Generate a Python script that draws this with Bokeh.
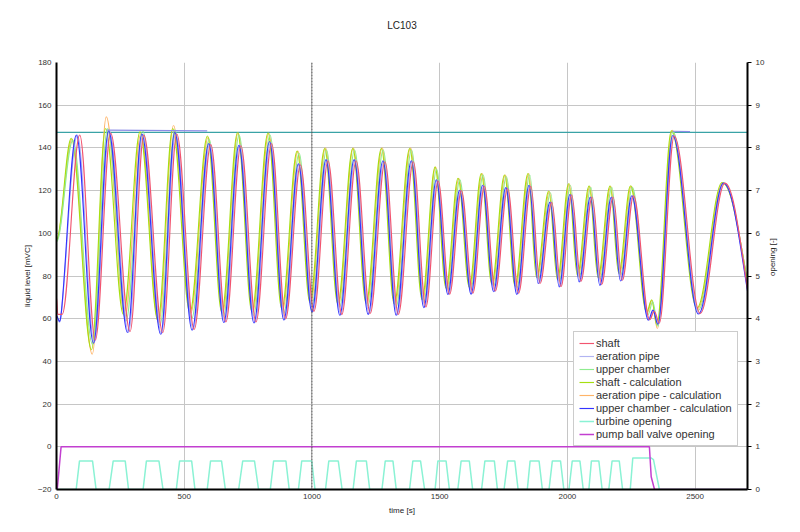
import math
import numpy as np
from bokeh.plotting import figure
from bokeh.models import (Range1d, LinearAxis, SingleIntervalTicker, Title,
                          Legend, LegendItem, Span, ColumnDataSource)
from bokeh.embed import file_html
from bokeh.resources import INLINE

# ---------------- data ----------------
title_text = "LC103"
x_label = "time [s]"
y_label = "liquid level [mVC]"
y2_label = "opening [-]"
series_names = ["shaft", "aeration pipe", "upper chamber", "shaft - calculation",
                "aeration pipe - calculation", "upper chamber - calculation",
                "turbine opening", "pump ball valve opening"]

# shaft (measured) – turning points
shaft_t = [0, 5, 22, 91, 152, 212, 288, 342, 416, 471, 539, 604, 663, 722, 781, 842, 897, 955, 1008,
           1063, 1117, 1173, 1228, 1286, 1338, 1397, 1446, 1494, 1539, 1585, 1630, 1675, 1718, 1766,
           1809, 1857, 1893, 1939, 1975, 2017, 2053, 2097, 2134, 2179, 2215, 2259, 2322, 2340, 2360,
           2418, 2520, 2617, 2705]
shaft_v = [70, 62, 62, 146, 50, 147, 54, 146, 53.5, 146.5, 55, 141.5, 58.5, 141, 58.5, 142, 60, 132,
           63.5, 134, 62, 134, 62.5, 133.5, 62, 133.5, 65.5, 124.5, 71.5, 120, 72, 122, 73, 121, 72,
           122, 76.5, 114.5, 75, 118, 77.5, 117, 76, 117, 78, 117.5, 59.5, 63.5, 58, 145.5, 62.5,
           123.5, 74]

# aeration pipe (measured)
aer_t = [0, 18, 82, 148, 207, 282, 338, 411, 466, 535, 600, 659, 718, 777, 838, 894, 951, 1004, 1059,
         1113, 1169, 1224, 1282, 1334, 1393, 1442, 1491, 1536, 1582, 1627, 1672, 1715, 1763, 1806,
         1854, 1890, 1936, 1972, 2014, 2050, 2094, 2131, 2176, 2212, 2256, 2320, 2338, 2357, 2415,
         2517, 2614, 2705]
aer_v = [61, 61.5, 146, 49, 148, 53.5, 146.5, 53, 147, 55, 142, 58.5, 141.5, 58.3, 142.5, 59.6,
         132.5, 63.3, 134.5, 61.8, 134.5, 62.2, 134, 61.8, 134, 65.4, 125, 71.5, 120, 71.8, 122.3,
         72.8, 121.3, 71.7, 122.3, 76.5, 114.6, 75, 118, 77.3, 117, 75.8, 117, 77.8, 117.5, 59.4,
         63.8, 57.6, 146, 62.3, 123.5, 73.5]
# aeration pipe resting at the overflow level
aer_flat_t = [[197, 590], [2412, 2480]]
aer_flat_v = [[148.3, 148.0], [147.8, 147.6]]

# upper chamber (measured)
uc_t = [0, 64, 141, 200, 272, 338, 405, 463, 529, 598, 653, 715, 771, 836, 889, 950, 999, 1057, 1108,
        1167, 1219, 1279, 1329, 1390, 1438, 1488, 1531, 1579, 1622, 1670, 1711, 1761, 1802, 1853,
        1886, 1934, 1968, 2012, 2046, 2092, 2127, 2174, 2208, 2254, 2316, 2334, 2354, 2413, 2512,
        2612, 2705]
uc_v = [96, 143.5, 48, 149, 59, 148, 57, 148.5, 60, 144, 61, 146, 61.5, 146, 62.5, 137.5, 66, 139,
        65.5, 139, 66, 139, 65.5, 139, 68, 130, 73.5, 125, 74, 127.3, 75.5, 126.5, 74.5, 127.3, 78.5,
        119, 77.5, 122.5, 79.5, 121.5, 78.5, 121.5, 80.5, 121.5, 62, 68, 56.5, 147.5, 64, 123.5, 76]

# shaft - calculation
sc_t = [0, 58, 137, 192, 262, 327, 397, 455, 522, 591, 647, 709, 765, 828, 882, 942, 992, 1050, 1101,
        1160, 1212, 1272, 1322, 1383, 1431, 1482, 1525, 1572, 1616, 1663, 1704, 1754, 1795, 1846,
        1879, 1927, 1961, 2005, 2039, 2085, 2120, 2167, 2201, 2247, 2310, 2330, 2350, 2407, 2507,
        2606, 2705]
sc_v = [97, 144.5, 45.5, 149, 62, 147.5, 59, 149, 63, 145.5, 63, 147.2, 63.3, 147, 64.5, 138.5, 67.6,
        139.8, 67, 139.8, 67.3, 139.8, 67, 139.8, 69, 131, 74.3, 125.8, 74.7, 128, 76.3, 127.3, 75.3,
        128, 79.4, 119.8, 78.3, 123.3, 80.3, 122.2, 79.3, 122.2, 81.3, 122.2, 63, 68.8, 57, 148, 65,
        123.8, 77.5]

# aeration pipe - calculation
ac_t = [0, 61, 140, 195, 268, 330, 400, 458, 525, 594, 650, 711, 768, 831, 885, 945, 995, 1053, 1104,
        1162, 1215, 1275, 1325, 1386, 1434, 1484, 1528, 1575, 1619, 1666, 1707, 1757, 1798, 1849,
        1882, 1930, 1964, 2008, 2042, 2088, 2123, 2170, 2204, 2250, 2312, 2331, 2352, 2410, 2510,
        2609, 2705]
ac_v = [97, 144, 43.4, 154.5, 61, 146.5, 58, 150.5, 62.5, 145, 62.5, 147, 63, 147, 64, 138.5, 67.4,
        140, 66.6, 140, 67, 140, 66.6, 140, 68.8, 131, 74, 125.6, 74.5, 128, 76, 127.3, 75, 128, 79.2,
        119.6, 78, 123.2, 80, 122, 79, 122, 81, 122, 62.5, 68.6, 55.4, 148.2, 64.8, 123.6, 77]

# upper chamber - calculation
ucc_t = [0, 18, 78, 145, 204, 278, 334, 408, 463, 531, 596, 655, 714, 773, 834, 890, 947, 1000, 1055,
         1109, 1165, 1220, 1278, 1330, 1389, 1438, 1487, 1532, 1578, 1623, 1668, 1711, 1759, 1802,
         1850, 1886, 1932, 1968, 2010, 2046, 2090, 2127, 2172, 2208, 2252, 2317, 2335, 2354, 2412,
         2513, 2611, 2705]
ucc_v = [61.5, 62, 146, 48.5, 148, 53.5, 146.5, 52.7, 147.4, 54.6, 142, 58.2, 141.2, 58, 143, 59.4,
         132.5, 63.2, 134.5, 61.6, 134.5, 62, 134, 61.6, 134, 65.2, 125.1, 71.4, 120.1, 71.5, 122.5,
         72.7, 121.4, 71.4, 122.5, 76.4, 114.6, 74.9, 118.2, 77.2, 117, 75.6, 117, 77.7, 117.6, 59.3,
         64, 57.4, 145.8, 62.2, 123.5, 73]

# overflow level line
overflow_level = 147.3

# turbine opening (right axis)
turb_t = [0, 77, 90, 141, 155, 206, 222, 269, 282, 339, 352, 401, 417, 469, 482, 529, 542, 590, 603,
          646, 661, 713, 729, 775, 791, 837, 850, 898, 911, 947, 960, 999, 1012, 1053, 1066, 1103,
          1118, 1161, 1174, 1213, 1226, 1274, 1287, 1317, 1330, 1382, 1395, 1425, 1441, 1482, 1493,
          1525, 1538, 1571, 1584, 1616, 1629, 1664, 1677, 1714, 1726, 1752, 1766, 1794, 1807, 1843,
          1854, 1889, 1902, 1928, 1941, 1973, 1986, 2006, 2019, 2049, 2062, 2084, 2094, 2123, 2136,
          2162, 2175, 2203, 2216, 2246, 2256, 2327, 2337, 2360, 2705]
turb_v = [0, 0, 0.67, 0.67, 0, 0, 0.67, 0.67, 0, 0, 0.67, 0.67, 0, 0, 0.67, 0.67, 0, 0, 0.67, 0.67,
          0, 0, 0.67, 0.67, 0, 0, 0.67, 0.67, 0, 0, 0.67, 0.67, 0, 0, 0.67, 0.67, 0, 0, 0.67, 0.67,
          0, 0, 0.67, 0.67, 0, 0, 0.67, 0.67, 0, 0, 0.67, 0.67, 0, 0, 0.67, 0.67, 0, 0, 0.67, 0.67,
          0, 0, 0.67, 0.67, 0, 0, 0.67, 0.67, 0, 0, 0.67, 0.67, 0, 0, 0.67, 0.67, 0, 0, 0.67, 0.67,
          0, 0, 0.67, 0.67, 0, 0, 0.74, 0.74, 0.70, 0, 0]

# pump ball valve opening (right axis)
pump_t = [0, 3, 18, 2321, 2328, 2341, 2705]
pump_v = [0, 0, 1, 1, 0.3, 0, 0]

# ---------------- styling ----------------
FONT = "Liberation Sans"
colors = {
    "shaft": "#f2546f",
    "aeration pipe": "#b2b4f2",
    "upper chamber": "#8fec8f",
    "shaft - calculation": "#a6df10",
    "aeration pipe - calculation": "#ffb468",
    "upper chamber - calculation": "#3434ff",
    "turbine opening": "#8af2d4",
    "pump ball valve opening": "#c23fd0",
}

p = figure(width=784, height=518, output_backend="svg", toolbar_location=None,
           x_range=Range1d(0, 2705), y_range=Range1d(-20, 180),
           min_border_left=56, min_border_right=34, min_border_top=62, min_border_bottom=29,
           background_fill_color="white", border_fill_color="white")
p.outline_line_color = None
p.extra_y_ranges = {"op": Range1d(0, 10)}

# empty spacer between the plot area and the title
p.add_layout(Title(text=" ", standoff=19, text_font=FONT, text_font_size="10px"), "above")
p.title.text = title_text
p.title.align = "center"
p.title.text_font = FONT
p.title.text_font_size = "10px"
p.title.text_font_style = "normal"
p.title.text_color = "#222222"
p.title.standoff = 0

# grids
p.xgrid.ticker = SingleIntervalTicker(interval=500)
p.ygrid.ticker = SingleIntervalTicker(interval=20)
for g in (p.xgrid, p.ygrid):
    g.grid_line_color = "#c6c6c6"
    g.grid_line_width = 1

# axes
xa = p.xaxis[0]
xa.ticker = SingleIntervalTicker(interval=500)
xa.axis_label = x_label
ya = p.yaxis[0]
ya.ticker = SingleIntervalTicker(interval=20)
ya.axis_label = y_label
ya2 = LinearAxis(y_range_name="op", ticker=SingleIntervalTicker(interval=1), axis_label=y2_label)
p.add_layout(ya2, "right")
for ax in (xa, ya, ya2):
    ax.axis_line_color = "black"
    ax.axis_line_width = 2
    ax.major_tick_in = 0
    ax.major_tick_out = 0
    ax.minor_tick_in = 0
    ax.minor_tick_out = 0
    ax.major_label_text_font = FONT
    ax.major_label_text_font_size = "8px"
    ax.major_label_text_color = "#333333"
    ax.axis_label_text_font = FONT
    ax.axis_label_text_font_size = "8px"
    ax.axis_label_text_font_style = "normal"
    ax.axis_label_text_color = "#222222"
ya2.major_tick_out = 4
ya2.major_tick_line_color = "black"
ya2.axis_label_orientation = math.pi / 2
xa.major_label_standoff = 4
xa.axis_label_standoff = 4
ya.major_label_standoff = 5
ya.axis_label_standoff = 3
ya2.major_label_standoff = 4
ya2.axis_label_standoff = 5

# dashed marker line at 1000 s
p.add_layout(Span(location=1000, dimension="height", line_color="#555555",
                  line_dash="2 1", line_width=1))


def bezier_source(t, v):
    """Control points for a smooth stroke through the listed turning points."""
    t = np.asarray(t, float)
    v = np.asarray(v, float)
    n = len(t)
    m = np.zeros(n)
    for i in range(1, n - 1):
        if (v[i] - v[i - 1]) * (v[i + 1] - v[i]) > 0:
            m[i] = (v[i + 1] - v[i - 1]) / (t[i + 1] - t[i - 1])
    m[-1] = 1.4 * (v[-1] - v[-2]) / (t[-1] - t[-2])
    dt = t[1:] - t[:-1]
    k = 0.36
    return ColumnDataSource(dict(
        x0=t[:-1], y0=v[:-1], x1=t[1:], y1=v[1:],
        cx0=t[:-1] + k * dt, cy0=v[:-1] + m[:-1] * k * dt,
        cx1=t[1:] - k * dt, cy1=v[1:] - m[1:] * k * dt))


# overflow level
p.line([0, 2705], [overflow_level, overflow_level], line_color="#3aa3a6", line_width=1.3)

renderers = {}
level_series = [
    ("aeration pipe - calculation", ac_t, ac_v),
    ("shaft - calculation", sc_t, sc_v),
    ("upper chamber", uc_t, uc_v),
    ("aeration pipe", aer_t, aer_v),
    ("upper chamber - calculation", ucc_t, ucc_v),
    ("shaft", shaft_t, shaft_v),
]
for name, t, v in level_series:
    src = bezier_source(t, v)
    renderers[name] = p.bezier(x0="x0", y0="y0", x1="x1", y1="y1", cx0="cx0", cy0="cy0",
                               cx1="cx1", cy1="cy1", source=src, line_color=colors[name],
                               line_width=1.15)

p.multi_line(aer_flat_t, aer_flat_v, line_color="#8c8ce6", line_width=1.2)

renderers["turbine opening"] = p.line(turb_t, turb_v, y_range_name="op",
                                      line_color=colors["turbine opening"], line_width=1.5)
renderers["pump ball valve opening"] = p.line(pump_t, pump_v, y_range_name="op",
                                              line_color=colors["pump ball valve opening"],
                                              line_width=1.5)

legend = Legend(items=[LegendItem(label=n, renderers=[renderers[n]]) for n in series_names],
                location=(517, 43))
legend.label_text_font = FONT
legend.label_text_font_size = "11px"
legend.label_text_color = "#333333"
legend.label_height = 12
legend.glyph_height = 12
legend.glyph_width = 15
legend.label_standoff = 2
legend.spacing = 1
legend.padding = 5
legend.margin = 0
legend.border_line_color = "#999999"
legend.border_line_width = 1
legend.background_fill_color = "white"
legend.background_fill_alpha = 1
p.add_layout(legend)

open("out.html", "w").write(file_html(p, INLINE))
